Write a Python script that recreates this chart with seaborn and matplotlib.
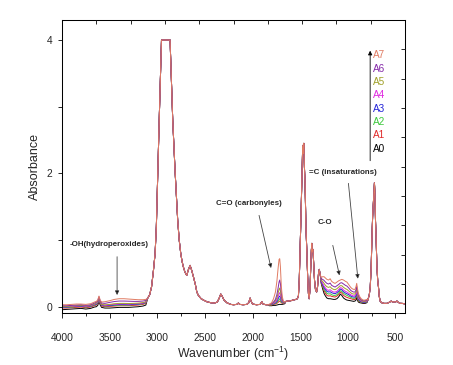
import matplotlib
matplotlib.use('Agg')
from matplotlib import pyplot as plt
from matplotlib.ticker import MultipleLocator
import seaborn as sns
import pandas as pd

samples = ['A0', 'A1', 'A2', 'A3', 'A4', 'A5', 'A6', 'A7']
colors = ['#000000', '#E02828', '#3CC83C', '#2424D8', '#E028E0', '#A0A028', '#8428A8', '#E07B62']

# 4000-3120 cm-1 (hydroperoxide band), one row per sample A0..A7
wn_oh = [4000, 3950, 3900, 3850, 3800, 3750, 3700, 3660, 3640, 3625, 3612, 3600,
         3585, 3550, 3500, 3450, 3400, 3350, 3300, 3250, 3200, 3150, 3120]
abs_oh = [
    [-0.045, -0.04, -0.035, -0.03, -0.025, -0.035, -0.025, -0.005, 0.0, 0.02, 0.08, 0.03,
     -0.01, -0.02, -0.02, -0.015, -0.01, -0.01, -0.01, -0.005, 0.0, 0.01, 0.025],
    [-0.02, -0.02, -0.015, -0.01, -0.005, -0.015, -0.005, 0.015, 0.025, 0.045, 0.1, 0.05,
     0.01, 0.0, 0.005, 0.01, 0.015, 0.015, 0.015, 0.02, 0.025, 0.035, 0.05],
    [-0.01, -0.01, -0.005, 0.0, 0.005, -0.005, 0.005, 0.025, 0.035, 0.055, 0.11, 0.06,
     0.02, 0.01, 0.015, 0.02, 0.025, 0.025, 0.025, 0.03, 0.035, 0.045, 0.06],
    [-0.005, -0.005, 0.0, 0.005, 0.01, 0.0, 0.01, 0.03, 0.04, 0.06, 0.115, 0.065,
     0.025, 0.015, 0.02, 0.028, 0.032, 0.032, 0.03, 0.035, 0.04, 0.05, 0.065],
    [0.0, 0.0, 0.005, 0.01, 0.015, 0.005, 0.015, 0.035, 0.05, 0.07, 0.13, 0.07,
     0.03, 0.02, 0.028, 0.036, 0.042, 0.042, 0.04, 0.042, 0.046, 0.055, 0.07],
    [0.005, 0.005, 0.01, 0.015, 0.02, 0.01, 0.02, 0.04, 0.055, 0.075, 0.135, 0.075,
     0.035, 0.028, 0.035, 0.045, 0.05, 0.05, 0.048, 0.05, 0.054, 0.062, 0.075],
    [0.015, 0.015, 0.02, 0.025, 0.03, 0.02, 0.03, 0.055, 0.07, 0.09, 0.15, 0.09,
     0.055, 0.05, 0.065, 0.078, 0.085, 0.085, 0.082, 0.08, 0.08, 0.085, 0.095],
    [0.03, 0.03, 0.035, 0.04, 0.04, 0.035, 0.045, 0.07, 0.08, 0.1, 0.16, 0.1,
     0.07, 0.075, 0.09, 0.11, 0.12, 0.12, 0.115, 0.11, 0.105, 0.105, 0.11],
]

# 3100-1840 cm-1, curves overlap here
wn_ch = [3100, 3080, 3060, 3040, 3023, 3010, 2999, 2988, 2978, 2966,
         2956, 2866, 2859, 2838, 2814, 2786, 2770, 2754, 2740, 2727,
         2710, 2691, 2675, 2656, 2640, 2621, 2600, 2585, 2569, 2540,
         2516, 2480, 2440, 2400, 2370, 2350, 2334, 2320, 2300, 2270,
         2230, 2200, 2165, 2149, 2135, 2100, 2060, 2040, 2026, 2015,
         2000, 1960, 1920, 1903, 1890, 1860, 1840]
abs_ch = [0.13, 0.18, 0.3, 0.55, 0.8, 1.2, 1.8, 2.4, 2.9, 3.5,
          4.0, 4.0, 3.7, 2.8, 2.05, 1.3, 1.0, 0.8, 0.68, 0.6,
          0.52, 0.47, 0.55, 0.62, 0.55, 0.45, 0.33, 0.22, 0.17, 0.12,
          0.1, 0.075, 0.06, 0.055, 0.07, 0.13, 0.19, 0.16, 0.1, 0.06,
          0.035, 0.03, 0.035, 0.055, 0.035, 0.03, 0.035, 0.06, 0.13, 0.08,
          0.04, 0.03, 0.035, 0.075, 0.04, 0.03, 0.03]

# carbonyl band
wn_carbonyl = [1825, 1800, 1780, 1760, 1745, 1732, 1722, 1715, 1708, 1698, 1688, 1676, 1662]
abs_carbonyl = [
    [0.015, 0.015, 0.02, 0.02, 0.025, 0.03, 0.035, 0.035, 0.035, 0.035, 0.035, 0.04, 0.045],
    [0.02, 0.025, 0.035, 0.04, 0.05, 0.065, 0.08, 0.085, 0.075, 0.06, 0.05, 0.05, 0.055],
    [0.025, 0.03, 0.04, 0.05, 0.065, 0.09, 0.11, 0.12, 0.1, 0.07, 0.06, 0.055, 0.06],
    [0.03, 0.035, 0.045, 0.06, 0.08, 0.12, 0.15, 0.16, 0.14, 0.09, 0.07, 0.06, 0.06],
    [0.03, 0.04, 0.05, 0.07, 0.1, 0.15, 0.2, 0.21, 0.18, 0.11, 0.08, 0.06, 0.065],
    [0.03, 0.04, 0.06, 0.09, 0.13, 0.2, 0.26, 0.28, 0.24, 0.14, 0.09, 0.065, 0.065],
    [0.035, 0.045, 0.07, 0.11, 0.18, 0.28, 0.37, 0.4, 0.35, 0.2, 0.11, 0.07, 0.07],
    [0.035, 0.06, 0.12, 0.22, 0.38, 0.58, 0.71, 0.72, 0.6, 0.3, 0.15, 0.08, 0.07],
]

# 1650-1290 cm-1, curves overlap
wn_mid = [1650, 1620, 1600, 1570, 1545, 1530, 1519, 1510, 1501, 1492,
          1483, 1475, 1470, 1466, 1462, 1456, 1449, 1440, 1431, 1422,
          1414, 1406, 1398, 1390, 1383, 1378, 1372, 1366, 1358, 1350,
          1340, 1328, 1318, 1308, 1300, 1290]
abs_mid = [0.08, 0.085, 0.09, 0.1, 0.11, 0.12, 0.16, 0.4, 0.85, 1.35,
           1.85, 2.35, 2.42, 2.3, 2.45, 2.1, 1.85, 1.2, 0.85, 0.45,
           0.2, 0.12, 0.25, 0.55, 0.85, 0.95, 0.82, 0.86, 0.62, 0.4,
           0.26, 0.22, 0.3, 0.5, 0.56, 0.48]

# C-O and unsaturation band
wn_co = [1280, 1265, 1250, 1235, 1220, 1203, 1186, 1170, 1150, 1134,
         1115, 1095, 1080, 1064, 1045, 1025, 1010, 990, 970, 955,
         940, 925, 915, 907, 900, 890, 875, 860, 840, 820, 800]
abs_co = [
    [0.35, 0.27, 0.2, 0.16, 0.13, 0.12, 0.12, 0.115, 0.11, 0.11,
     0.12, 0.15, 0.19, 0.17, 0.13, 0.11, 0.1, 0.095, 0.09, 0.085,
     0.08, 0.085, 0.1, 0.14, 0.1, 0.07, 0.06, 0.055, 0.05, 0.05, 0.06],
    [0.36, 0.3, 0.24, 0.2, 0.17, 0.16, 0.165, 0.155, 0.15, 0.145,
     0.16, 0.185, 0.22, 0.205, 0.17, 0.15, 0.14, 0.13, 0.12, 0.115,
     0.105, 0.11, 0.13, 0.17, 0.125, 0.09, 0.075, 0.065, 0.06, 0.06, 0.07],
    [0.37, 0.32, 0.26, 0.23, 0.2, 0.19, 0.195, 0.18, 0.17, 0.17,
     0.18, 0.21, 0.24, 0.23, 0.2, 0.18, 0.17, 0.155, 0.14, 0.13,
     0.125, 0.13, 0.15, 0.19, 0.145, 0.1, 0.08, 0.07, 0.063, 0.063, 0.073],
    [0.38, 0.33, 0.29, 0.255, 0.23, 0.22, 0.225, 0.21, 0.2, 0.195,
     0.21, 0.235, 0.265, 0.255, 0.225, 0.205, 0.195, 0.18, 0.16, 0.15,
     0.145, 0.145, 0.17, 0.21, 0.165, 0.115, 0.09, 0.078, 0.068, 0.068, 0.078],
    [0.39, 0.35, 0.31, 0.28, 0.255, 0.245, 0.255, 0.235, 0.22, 0.22,
     0.23, 0.26, 0.285, 0.28, 0.25, 0.23, 0.22, 0.2, 0.18, 0.17,
     0.16, 0.165, 0.19, 0.235, 0.18, 0.13, 0.1, 0.085, 0.073, 0.073, 0.083],
    [0.4, 0.38, 0.35, 0.32, 0.3, 0.29, 0.3, 0.275, 0.26, 0.255,
     0.27, 0.295, 0.315, 0.315, 0.29, 0.27, 0.26, 0.235, 0.21, 0.195,
     0.19, 0.19, 0.22, 0.265, 0.21, 0.15, 0.115, 0.095, 0.08, 0.08, 0.09],
    [0.42, 0.41, 0.395, 0.37, 0.35, 0.34, 0.355, 0.32, 0.305, 0.295,
     0.315, 0.335, 0.355, 0.36, 0.34, 0.32, 0.31, 0.28, 0.245, 0.23,
     0.22, 0.22, 0.255, 0.305, 0.24, 0.17, 0.13, 0.105, 0.09, 0.09, 0.1],
    [0.44, 0.45, 0.45, 0.43, 0.41, 0.4, 0.42, 0.38, 0.36, 0.35,
     0.37, 0.39, 0.4, 0.41, 0.4, 0.38, 0.37, 0.33, 0.29, 0.27,
     0.26, 0.26, 0.3, 0.35, 0.28, 0.2, 0.15, 0.12, 0.1, 0.1, 0.11],
]

# 790-400 cm-1, curves overlap
wn_low = [790, 775, 765, 755, 748, 740, 733, 727, 721, 716,
          710, 703, 695, 687, 679, 670, 660, 645, 620, 590,
          560, 545, 530, 515, 500, 485, 470, 450, 430, 410, 400]
abs_low = [0.1, 0.18, 0.3, 0.6, 1.0, 1.35, 1.55, 1.7, 1.86, 1.7,
           1.3, 1.0, 0.6, 0.4, 0.3, 0.15, 0.08, 0.06, 0.05, 0.05,
           0.07, 0.085, 0.07, 0.075, 0.07, 0.085, 0.065, 0.05, 0.05, 0.045, 0.04]

rows = []
for i, s in enumerate(samples):
    wn = wn_oh + wn_ch + wn_carbonyl + wn_mid + wn_co + wn_low
    ab = abs_oh[i] + abs_ch + abs_carbonyl[i] + abs_mid + abs_co[i] + abs_low
    for w, a in zip(wn, ab):
        rows.append([s, w, a])
df = pd.DataFrame(rows, columns=['sample', 'wavenumber', 'absorbance'])

sns.set_style('ticks')
plt.rcParams['font.family'] = ['Liberation Sans', 'DejaVu Sans']
plt.rcParams['mathtext.default'] = 'regular'

fig = plt.figure(figsize=(4.53, 3.65), dpi=100)
ax = fig.add_axes([0.1369, 0.1414, 0.7572, 0.8038])

sns.lineplot(data=df, x='wavenumber', y='absorbance', hue='sample', hue_order=samples,
             palette=colors, estimator=None, sort=False, legend=False, linewidth=0.7, ax=ax)

ax.set_xlim(4000, 400)
ax.set_ylim(-0.1, 4.3)
ax.xaxis.set_major_locator(MultipleLocator(500))
ax.xaxis.set_minor_locator(MultipleLocator(250))
ax.yaxis.set_major_locator(MultipleLocator(2))
ax.yaxis.set_minor_locator(MultipleLocator(1))
ax.tick_params(axis='x', which='major', direction='out', length=3.6, width=0.7, pad=10.5, labelsize=7.4)
ax.tick_params(axis='x', which='minor', direction='out', length=2.4, width=0.7)
ax.tick_params(axis='y', which='major', direction='out', length=3, width=0.7, pad=4, labelsize=7.4)
ax.tick_params(axis='y', which='minor', direction='out', length=3, width=0.7)
for sp in ax.spines.values():
    sp.set_linewidth(0.75)
    sp.set_color('black')
ax.set_xlabel('Wavenumber (cm$^{-1}$)', fontsize=8.8, labelpad=1.5)
ax.set_ylabel('Absorbance', fontsize=9, labelpad=4)

# top/right inward ticks like the Origin frame
ax2 = fig.add_axes(ax.get_position(), frameon=False)
ax2.set_xlim(0, 1)
ax2.set_ylim(0, 1)
ax2.set_xticks([k / 10 for k in range(1, 10)])
ax2.set_yticks([k / 10 for k in range(1, 10)])
ax2.tick_params(top=True, right=True, bottom=False, left=False, labeltop=False, labelright=False,
                labelbottom=False, labelleft=False, direction='in', length=3, width=0.7)

arrow = dict(arrowstyle='-|>', fc='black', ec='#444444', lw=0.6, mutation_scale=6, shrinkA=0, shrinkB=0)
bold = dict(fontsize=5.7, fontweight='bold', ha='center', va='center')

ax.text(3506, 0.94, '-OH(hydroperoxides)', **bold)
ax.annotate('', xy=(3422, 0.175), xytext=(3422, 0.75), arrowprops=arrow)
ax.text(2036, 1.55, 'C=O (carbonyles)', **bold)
ax.annotate('', xy=(1806, 0.58), xytext=(1932, 1.37), arrowprops=arrow)
ax.text(1050, 2.01, '=C (insaturations)', **bold)
ax.annotate('', xy=(895, 0.42), xytext=(994, 1.85), arrowprops=arrow)
ax.text(1238, 1.27, 'C-O', **bold)
ax.annotate('', xy=(1088, 0.47), xytext=(1158, 0.92), arrowprops=arrow)

# sample labels with the ageing arrow
for i, s in enumerate(samples):
    ax.text(735, 2.37 + 0.2 * i, s, color=colors[i], fontsize=7.2, ha='left', va='center')
ax.annotate('', xy=(766, 3.84), xytext=(766, 2.19),
            arrowprops=dict(arrowstyle='-|>', fc='black', ec='black', lw=0.6, mutation_scale=6,
                            shrinkA=0, shrinkB=0))

fig.savefig('out.png', dpi=100, facecolor='white')
